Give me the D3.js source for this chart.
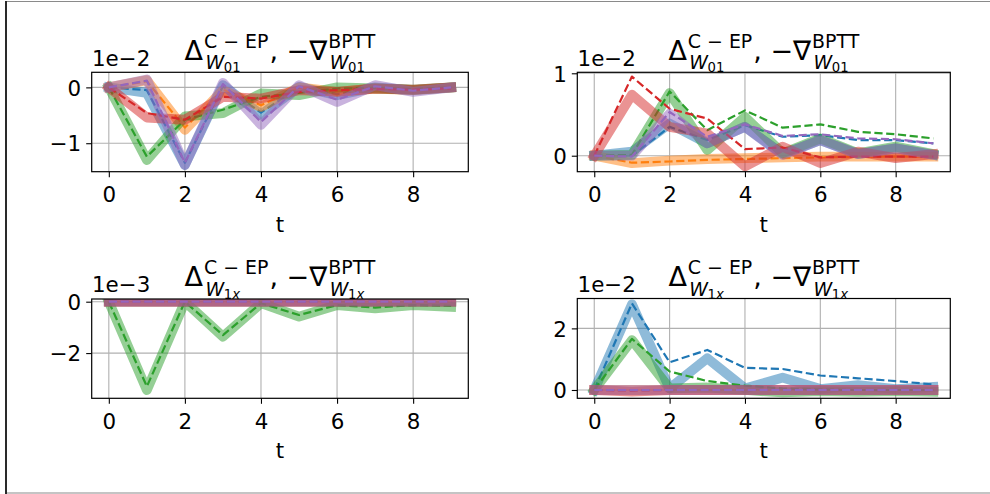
<!DOCTYPE html>
<html>
<head>
<meta charset="utf-8">
<script src="https://cdn.jsdelivr.net/npm/d3@7"></script>
<style>
  html, body { margin: 0; padding: 0; background: #fff; }
  svg { display: block; font-family: "DejaVu Sans", sans-serif; }
</style>
</head>
<body>
<svg id="chart" width="990" height="494"></svg>
<script>
// ---------------- data ----------------
const steps = [0, 1, 2, 3, 4, 5, 6, 7, 8, 9];
const seriesNames = ["blue", "orange", "green", "red", "purple"];
const seriesColors = ["#1f77b4", "#ff7f0e", "#2ca02c", "#d62728", "#9467bd"];
const xTicks = [0, 2, 4, 6, 8];

// Panel A (top-left): W01, scale 1e-2
const cepA = [
  [0, -0.10, -1.39, 0.04, -0.49, 0.01, -0.14, 0.00, -0.05, 0.00],
  [0, 0.13, -0.76, -0.05, -0.35, 0.00, -0.08, -0.02, -0.05, 0.00],
  [0, -1.30, -0.52, -0.46, -0.11, -0.14, 0.00, -0.02, -0.04, 0.00],
  [0, -0.54, -0.58, -0.17, -0.20, -0.05, -0.08, -0.02, -0.04, 0.00],
  [0, 0.14, -1.39, 0.08, -0.67, 0.04, -0.26, 0.04, -0.08, 0.00]
];
const bpttA = [
  [0, -0.05, -1.35, 0.02, -0.45, 0.00, -0.12, 0.00, -0.04, 0.00],
  [0, 0.11, -0.72, -0.04, -0.32, 0.00, -0.07, -0.01, -0.04, 0.00],
  [0, -1.24, -0.58, -0.40, -0.17, -0.10, -0.02, -0.01, -0.03, 0.00],
  [0, -0.46, -0.58, -0.17, -0.20, -0.08, -0.05, -0.03, -0.04, -0.02],
  [0, 0.12, -1.35, 0.06, -0.62, 0.02, -0.22, 0.02, -0.06, 0.00]
];
const yTicksA = [-1, 0];
const yLabelsA = ["\u22121", "0"];

// Panel B (top-right): W01, scale 1e-2
const cepB = [
  [0, 0.05, 0.39, 0.15, 0.35, 0.02, 0.19, 0.02, 0.09, 0.01],
  [0, -0.09, -0.06, -0.04, -0.03, -0.02, -0.01, -0.01, -0.01, -0.01],
  [0, 0.01, 0.76, 0.07, 0.47, 0.03, 0.21, 0.03, 0.11, 0.02],
  [0, 0.74, 0.35, 0.27, -0.13, 0.11, -0.09, 0.05, -0.03, 0.02],
  [0, 0.00, 0.51, 0.15, 0.35, 0.01, 0.19, 0.02, 0.09, 0.01]
];
const bpttB = [
  [0, 0.00, 0.35, 0.19, 0.37, 0.23, 0.25, 0.19, 0.19, 0.15],
  [0, -0.085, -0.07, -0.05, -0.04, -0.03, -0.02, -0.015, -0.01, -0.01],
  [0, 0.01, 0.78, 0.31, 0.55, 0.34, 0.38, 0.29, 0.26, 0.21],
  [0, 0.96, 0.57, 0.45, 0.08, 0.10, -0.02, -0.01, -0.01, -0.01],
  [0, -0.01, 0.53, 0.23, 0.38, 0.24, 0.26, 0.21, 0.20, 0.15]
];
const yTicksB = [0, 1];
const yLabelsB = ["0", "1"];

// Panel C (bottom-left): W1x, scale 1e-3
const cepC = [
  [0, 0, 0, 0, 0, 0, 0, 0, 0, 0],
  [0, 0, 0, 0, 0, 0, 0, 0, 0, 0],
  [0, -3.44, 0.00, -1.36, -0.06, -0.58, -0.13, -0.26, -0.13, -0.20],
  [0, 0, 0, 0, 0, 0, 0, 0, 0, 0],
  [0, 0, 0, 0, 0, 0, 0, 0, 0, 0]
];
const bpttC = [
  [0, 0, 0, 0, 0, 0, 0, 0, 0, 0],
  [0, 0, 0, 0, 0, 0, 0, 0, 0, 0],
  [0, -3.30, 0.00, -1.30, -0.06, -0.52, -0.13, -0.23, -0.13, -0.16],
  [0, 0, 0, 0, 0, 0, 0, 0, 0, 0],
  [0, 0, 0, 0, 0, 0, 0, 0, 0, 0]
];
const yTicksC = [-2, 0];
const yLabelsC = ["\u22122", "0"];

// Panel D (bottom-right): W1x, scale 1e-2
const cepD = [
  [0, 2.78, 0.05, 1.03, 0.05, 0.40, 0.03, 0.16, 0.03, 0.10],
  [0, 0, 0, 0, 0, 0, 0, 0, 0, 0],
  [0, 1.62, 0.05, 0.08, 0.00, -0.08, -0.04, -0.06, -0.04, -0.06],
  [0, -0.05, 0, 0, 0, 0, 0, 0, 0, 0],
  [0, 0, 0, 0, 0, 0, 0, 0, 0, 0]
];
const bpttD = [
  [0, 2.81, 0.90, 1.30, 0.72, 0.68, 0.47, 0.38, 0.29, 0.18],
  [0, 0, 0, 0, 0, 0, 0, 0, 0, 0],
  [0, 1.66, 0.60, 0.29, 0.14, 0.05, 0.02, 0.00, 0.00, 0.00],
  [0, -0.02, 0, 0, 0, 0, 0, 0, 0, 0],
  [0, 0, 0, 0, 0, 0, 0, 0, 0, 0]
];
const yTicksD = [0, 2];
const yLabelsD = ["0", "2"];

const offsetLabels = ["1e\u22122", "1e\u22122", "1e\u22123", "1e\u22122"];
const weightSubs = ["01", "01", "1x", "1x"];

// ---------------- layout ----------------
const svg = d3.select("#chart");

// figure frame
svg.append("line").attr("x1", 6).attr("x2", 990).attr("y1", 1.5).attr("y2", 1.5)
  .attr("stroke", "#8a8a8a").attr("stroke-width", 1.2);
svg.append("line").attr("x1", 6).attr("x2", 990).attr("y1", 493).attr("y2", 493)
  .attr("stroke", "#8a8a8a").attr("stroke-width", 1.2);
svg.append("line").attr("x1", 6).attr("x2", 6).attr("y1", 1).attr("y2", 494)
  .attr("stroke", "#2a2a2a").attr("stroke-width", 2);

const panels = [
  { box: [91.7, 72.3, 468.3, 171.7], yDom: [-1.51, 0.27], cep: cepA, bptt: bpttA, yt: yTicksA, yl: yLabelsA },
  { box: [577.3, 72.3, 950.3, 171.7], yDom: [-0.194, 1.012], cep: cepB, bptt: bpttB, yt: yTicksB, yl: yLabelsB },
  { box: [91.7, 299.0, 468.3, 398.3], yDom: [-3.76, 0.105], cep: cepC, bptt: bpttC, yt: yTicksC, yl: yLabelsC },
  { box: [577.3, 298.5, 950.3, 398.3], yDom: [-0.27, 2.97], cep: cepD, bptt: bpttD, yt: yTicksD, yl: yLabelsD }
];

const tickFont = 21.4;

function mathTitle(g, cx, baseline, sub) {
  const grp = g.append("g");
  const big = 27, mid = 18.9, small = 13.2;
  function piece(str, x, dy, size, italic) {
    const t = grp.append("text")
      .attr("x", x).attr("y", baseline + dy)
      .attr("font-size", size)
      .attr("font-style", italic ? "italic" : "normal")
      .attr("fill", "#000")
      .text(str);
    return t.node().getComputedTextLength();
  }
  function subscript(x) {
    const wW = piece("W", x, 9.8, mid, true);
    let w2;
    if (sub === "01") {
      w2 = piece("01", x + wW - 0.5, 12.8, small, false);
    } else {
      const w1 = piece("1", x + wW - 0.5, 12.8, small, false);
      w2 = w1 + piece("x", x + wW - 0.5 + w1, 12.8, small, true);
    }
    return wW - 0.5 + w2;
  }
  let x = 0;
  x += piece("\u0394", x, 0, big, false) + 1;
  const s1 = piece("C \u2212 EP", x, -11.8, mid, false);
  const b1 = subscript(x + 1.5);
  x += Math.max(s1, b1 + 1.5) + 1;
  x += piece(",", x, 0, big, false);
  x += 8.6;
  x += piece("\u2212\u2207", x, 0, big, false) + 1;
  const s2 = piece("BPTT", x, -11.8, mid, false);
  const b2 = subscript(x + 1.5);
  x += Math.max(s2, b2 + 1.5);
  grp.attr("transform", `translate(${cx - x / 2},0)`);
}

panels.forEach((p, k) => {
  const [x0, y0, x1, y1] = p.box;
  const xs = d3.scaleLinear().domain([-0.45, 9.45]).range([x0, x1]);
  const ys = d3.scaleLinear().domain(p.yDom).range([y1, y0]);
  const g = svg.append("g");

  const clipId = "clip" + k;
  svg.append("clipPath").attr("id", clipId)
    .append("rect").attr("x", x0).attr("y", y0).attr("width", x1 - x0).attr("height", y1 - y0);

  // grid
  g.append("g").selectAll("line").data(xTicks).join("line")
    .attr("x1", d => xs(d)).attr("x2", d => xs(d)).attr("y1", y0).attr("y2", y1)
    .attr("stroke", "#b0b0b0").attr("stroke-width", 1.1);
  g.append("g").selectAll("line").data(p.yt).join("line")
    .attr("x1", x0).attr("x2", x1).attr("y1", d => ys(d)).attr("y2", d => ys(d))
    .attr("stroke", "#b0b0b0").attr("stroke-width", 1.1);

  // lines
  const line = d3.line().x((d, i) => xs(steps[i])).y(d => ys(d));
  const lg = g.append("g").attr("clip-path", `url(#${clipId})`);
  seriesNames.forEach((name, i) => {
    lg.append("path").datum(p.cep[i])
      .attr("d", line).attr("fill", "none")
      .attr("stroke", seriesColors[i]).attr("stroke-opacity", 0.5)
      .attr("stroke-width", 9.8).attr("stroke-linejoin", "round").attr("stroke-linecap", "square");
    lg.append("path").datum(p.bptt[i])
      .attr("d", line).attr("fill", "none")
      .attr("stroke", seriesColors[i])
      .attr("stroke-width", 2.2).attr("stroke-dasharray", "8.2,3.6")
      .attr("stroke-linejoin", "round").attr("stroke-linecap", "butt");
  });

  // axes
  const xAxis = d3.axisBottom(xs).tickValues(xTicks).tickSize(5.5).tickPadding(7).tickFormat(d3.format("d"));
  const yAxis = d3.axisLeft(ys).tickValues(p.yt).tickSize(5.5).tickPadding(5)
    .tickFormat((d, i) => p.yl[i]);
  const gx = g.append("g").attr("transform", `translate(0,${y1})`).call(xAxis);
  const gy = g.append("g").attr("transform", `translate(${x0},0)`).call(yAxis);
  [gx, gy].forEach(a => {
    a.select(".domain").remove();
    a.selectAll(".tick line").attr("stroke", "#000").attr("stroke-width", 1.1);
    a.selectAll(".tick text").attr("fill", "#000").attr("font-size", tickFont)
      .attr("font-family", "DejaVu Sans, sans-serif");
  });
  gx.selectAll(".tick text").attr("dy", null).attr("y", 30.6).attr("dominant-baseline", null);
  gy.selectAll(".tick text").attr("dy", "0.36em");

  // frame
  g.append("rect").attr("x", x0).attr("y", y0).attr("width", x1 - x0).attr("height", y1 - y0)
    .attr("fill", "none").attr("stroke", "#000").attr("stroke-width", 1.2);

  // offset text
  g.append("text").attr("x", x0 + 0.3).attr("y", y0 - 6.6)
    .attr("font-size", tickFont).attr("fill", "#000").text(offsetLabels[k]);

  // x label
  g.append("text").attr("x", (x0 + x1) / 2).attr("y", y1 + 60)
    .attr("text-anchor", "middle").attr("font-size", tickFont).attr("fill", "#000").text("t");

  // title
  mathTitle(g, (x0 + x1) / 2, y0 - 12.8, weightSubs[k]);
});
</script>
</body>
</html>
